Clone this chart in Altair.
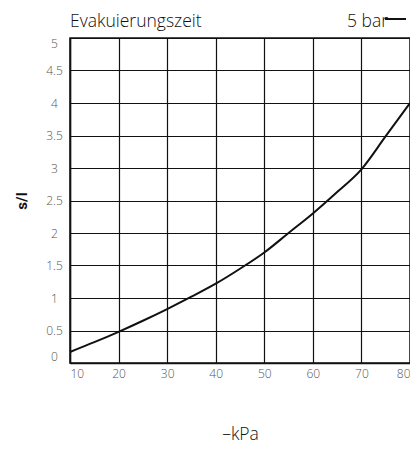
import altair as alt
import pandas as pd

# data
kpa = [10, 15, 20, 25, 30, 35, 40, 45, 50, 55, 60, 65, 70, 75, 80]
sec_per_l = [0.17, 0.32, 0.48, 0.65, 0.83, 1.02, 1.22, 1.45, 1.70, 2.0, 2.3, 2.63, 2.98, 3.49, 4.0]
x_ticks = [10, 20, 30, 40, 50, 60, 70, 80]
y_ticks = [0, 0.5, 1, 1.5, 2, 2.5, 3, 3.5, 4, 4.5, 5]
series_label = "5 bar"
title_text = "Evakuierungszeit"
x_title = "\u2013kPa"
y_title = "s/l"

df = pd.DataFrame({"kpa": kpa, "t": sec_per_l})
FONT = "Open Sans"

x_enc = alt.X("kpa:Q", scale=alt.Scale(domain=[10, 80], nice=False),
              axis=alt.Axis(values=x_ticks, title=x_title, ticks=False, labelPadding=5,
                            labelFlush=True, titlePadding=46, titleFontSize=17.5,
                            titleFontWeight=300, titleFont=FONT, titleColor="#111"))
y_enc = alt.Y("t:Q", scale=alt.Scale(domain=[0, 5], nice=False),
              axis=alt.Axis(values=y_ticks, format="~g", title=y_title, ticks=False,
                            labelPadding=16, labelAlign="center", labelFlush=True,
                            titlePadding=16, titleFontSize=15, titleFontWeight="bold",
                            titleFont="Roboto", titleColor="#111"))

line = alt.Chart(df).mark_line(color="#111", strokeWidth=2, interpolate="monotone").encode(
    x=x_enc, y=y_enc)

one = pd.DataFrame({"label": [series_label], "title": [title_text]})
label = alt.Chart(one).mark_text(align="right", baseline="alphabetic", fontSize=17.5,
                                 fontWeight=300, font=FONT, color="#111").encode(
    x=alt.value(318), y=alt.value(-11), text="label:N")
swatch = alt.Chart(one).mark_rule(color="#111", strokeWidth=2).encode(
    x=alt.value(315), x2=alt.value(336), y=alt.value(-19))
heading = alt.Chart(one).mark_text(align="left", baseline="alphabetic", fontSize=17.5,
                                   fontWeight=300, font=FONT, color="#111").encode(
    x=alt.value(0), y=alt.value(-11), text="title:N")

chart = alt.layer(line, label, swatch, heading).properties(
    width=340, height=325,
    autosize=alt.AutoSizeParams(type="none"),
    padding={"left": 62, "top": 30, "right": 0, "bottom": 85},
).configure_view(stroke="#111", strokeWidth=1.5).configure_axis(
    grid=True, gridColor="#111", gridWidth=1.2, gridOpacity=1,
    domainColor="#111", domainWidth=1.5,
    labelFont=FONT, labelFontSize=12, labelColor="#555", labelFontWeight=300,
)

chart.save("out.html", embed_options={"renderer": "svg", "actions": False})
